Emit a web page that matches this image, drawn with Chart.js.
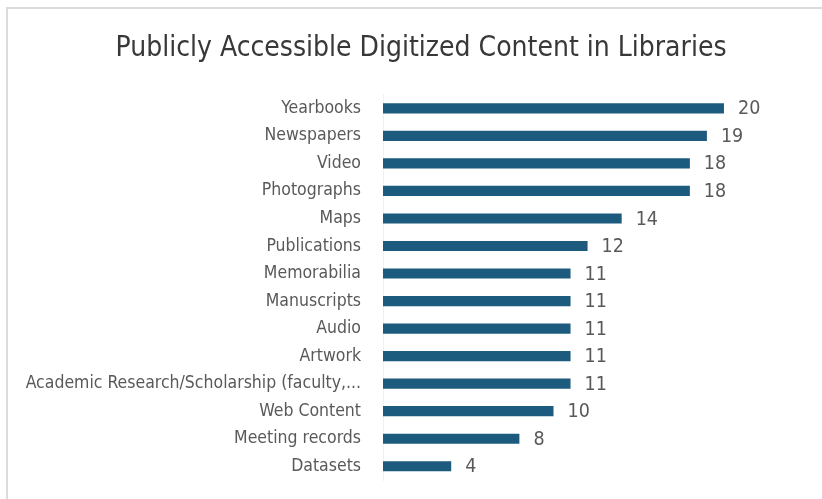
<!DOCTYPE html>
<html>
<head>
<meta charset="utf-8">
<script src="https://cdn.jsdelivr.net/npm/chart.js@4"></script>
<style>
  html, body { margin: 0; padding: 0; background: #ffffff; }
  #wrap { width: 822px; height: 499px; position: relative; }
</style>
</head>
<body>
<div id="wrap"><canvas id="c" width="822" height="499"></canvas></div>
<script>
const titleText = "Publicly Accessible Digitized Content in Libraries";
const categories = [
  "Yearbooks", "Newspapers", "Video", "Photographs", "Maps", "Publications",
  "Memorabilia", "Manuscripts", "Audio", "Artwork",
  "Academic Research/Scholarship (faculty,...", "Web Content",
  "Meeting records", "Datasets"
];
const counts = [20, 19, 18, 18, 14, 12, 11, 11, 11, 11, 11, 10, 8, 4];

const FONT = "'DejaVu Sans Condensed', 'Liberation Sans Narrow', 'Roboto', sans-serif";
const BAR_COLOR = "#1d5b7e";
const LABEL_COLOR = "#595959";

const framePlugin = {
  id: 'frame',
  beforeDraw(chart) {
    const ctx = chart.ctx;
    ctx.save();
    ctx.strokeStyle = '#dcdcdc';
    ctx.lineWidth = 2;
    ctx.beginPath();
    ctx.moveTo(7, 499);
    ctx.lineTo(7, 8);
    ctx.lineTo(822, 8);
    ctx.stroke();
    ctx.restore();
  }
};

const valueLabels = {
  id: 'valueLabels',
  afterDatasetsDraw(chart) {
    const ctx = chart.ctx;
    const meta = chart.getDatasetMeta(0);
    ctx.save();
    ctx.font = "19.5px " + FONT;
    ctx.fillStyle = LABEL_COLOR;
    ctx.textAlign = 'left';
    ctx.textBaseline = 'middle';
    meta.data.forEach((bar, i) => {
      ctx.fillText(String(chart.data.datasets[0].data[i]), bar.x + 14, bar.y + 1);
    });
    ctx.restore();
  }
};

new Chart(document.getElementById('c'), {
  type: 'bar',
  data: {
    labels: categories,
    datasets: [{
      data: counts,
      backgroundColor: BAR_COLOR,
      borderWidth: 0,
      barPercentage: 0.45,
      categoryPercentage: 0.82
    }]
  },
  options: {
    indexAxis: 'y',
    responsive: false,
    animation: false,
    devicePixelRatio: 1,
    layout: { padding: { left: 20, right: 0, top: 0, bottom: 19 } },
    plugins: {
      legend: { display: false },
      tooltip: { enabled: false },
      title: {
        display: true,
        text: titleText,
        color: '#383838',
        font: { family: FONT, size: 28, weight: 'normal' },
        padding: { top: 32, bottom: 29 }
      }
    },
    scales: {
      x: {
        display: false,
        min: 0,
        max: 25.75
      },
      y: {
        border: { display: true, color: '#f0f0f0' },
        grid: { display: false },
        ticks: {
          color: LABEL_COLOR,
          font: { family: FONT, size: 17.5 },
          padding: 14,
          autoSkip: false
        },
        afterFit(scale) {
          scale.width = 363;
          scale.paddingTop = 0;
          scale.paddingBottom = 0;
        }
      }
    }
  },
  plugins: [framePlugin, valueLabels]
});
</script>
</body>
</html>
